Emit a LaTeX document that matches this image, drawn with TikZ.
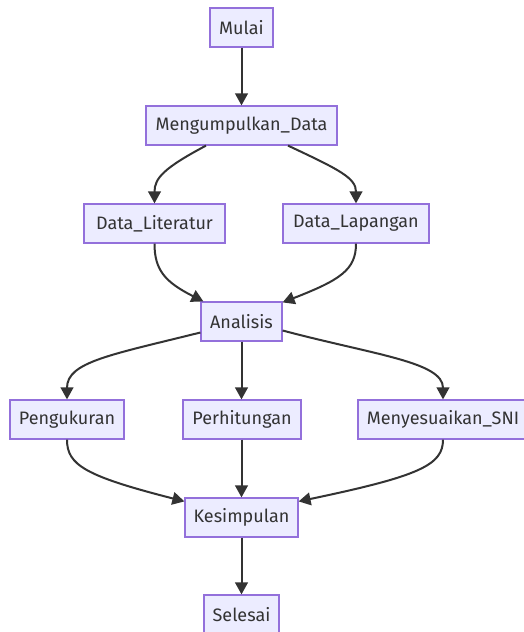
\documentclass[tikz,border=0pt]{standalone}
\usepackage{fontspec}
\setmainfont{Fira Sans}
\usetikzlibrary{arrows.meta,calc}
\definecolor{nodefill}{HTML}{ECECFF}
\definecolor{nodeline}{HTML}{9370DB}
\definecolor{edgecol}{HTML}{333333}
\definecolor{txtcol}{HTML}{333333}
\begin{document}
\begin{tikzpicture}[x=0.75pt,y=-0.75pt,
  box/.style={draw=nodeline,fill=nodefill,line width=0.9pt,minimum height=29.25pt,inner sep=0pt,
    text=txtcol,font=\fontsize{13.5}{16}\selectfont},
  edge/.style={draw=edgecol,line width=1.5pt,-{Triangle[length=9pt,width=9.5pt]}}]
\useasboundingbox (0,0) rectangle (524,632);
\fill[white] (0,0) rectangle (524,632);
\node[box,minimum width=47.25pt] (mu) at (241.5,27.5) {Mulai};
\node[box,minimum width=143.25pt] (mk) at (241.5,125.5) {Mengumpulkan\_Data};
\node[box,minimum width=105.75pt] (dl) at (154.5,223.5) {Data\_Literatur};
\node[box,minimum width=109.5pt] (dp) at (356,223.5) {Data\_Lapangan};
\node[box,minimum width=60.75pt] (an) at (241.5,321.5) {Analisis};
\node[box,minimum width=85.5pt] (pg) at (67,419.5) {Pengukuran};
\node[box,minimum width=88.5pt] (ph) at (242,419.5) {Perhitungan};
\node[box,minimum width=127.5pt] (ms) at (443,419.5) {Menyesuaikan\_SNI};
\node[box,minimum width=84.75pt] (ks) at (241.5,517.5) {Kesimpulan};
\node[box,minimum width=56.25pt] (sl) at (241.5,614.5) {Selesai};

\draw[edge] (mu.south) -- (mk.north);
\draw[edge] ($(mk.south)+(-35.5,0)$) .. controls (164,168) and (154.5,178) .. (dl.north);
\draw[edge] ($(mk.south)+(46.5,0)$) .. controls (340,170) and (356,178) .. (dp.north);
\draw[edge] (dl.south) .. controls (154.5,270) and (165,282) .. ($(an.north west)+(3,0)$);
\draw[edge] (dp.south) .. controls (356,270) and (340,280) .. ($(an.north east)+(0,1)$);
\draw[edge] ($(an.west)+(0,11)$) .. controls (110,355) and (67,362) .. (pg.north);
\draw[edge] (an.south) -- (ph.north -| an.south);
\draw[edge] ($(an.east)+(0,9)$) .. controls (375,355) and (443,362) .. (ms.north);
\draw[edge] (pg.south) .. controls (67,465) and (85,476) .. ($(ks.north west)+(0,4)$);
\draw[edge] (ph.south -| ks.north) -- (ks.north);
\draw[edge] (ms.south) .. controls (443,465) and (420,476) .. ($(ks.north east)+(0,4)$);
\draw[edge] (ks.south) -- (sl.north);
\end{tikzpicture}
\end{document}
